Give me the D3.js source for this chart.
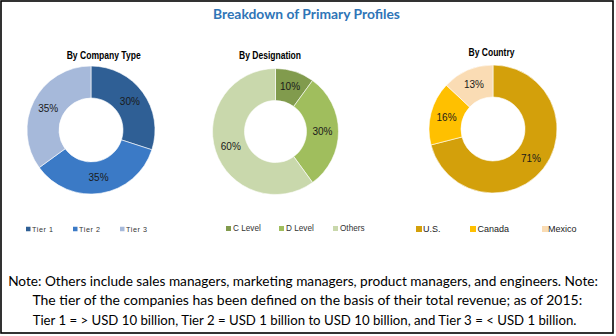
<!DOCTYPE html>
<html>
<head>
<meta charset="utf-8">
<script src="https://cdn.jsdelivr.net/npm/d3@7"></script>
<style>
  html, body { margin: 0; padding: 0; background: #fff; }
  svg { display: block; }
</style>
</head>
<body>
<script>
// ---- data ----
const title = "Breakdown of Primary Profiles";
const companyTypes = ["Tier 1", "Tier 2", "Tier 3"];
const companyShares = [30, 35, 35];
const designations = ["C Level", "D Level", "Others"];
const designationShares = [10, 30, 60];
const countries = ["U.S.", "Canada", "Mexico"];
const countryShares = [71, 16, 13];
const notes = [
  "Note: Others include sales managers, marketing managers, product managers, and engineers. Note:",
  "The tier of the companies has been defined on the basis of their total revenue; as of 2015:",
  "Tier 1 = > USD 10 billion, Tier 2 = USD 1 billion to USD 10 billion, and Tier 3 = < USD 1 billion."
];

// ---- layout / styles ----
const W = 616, H = 336;
const svg = d3.select("body").append("svg").attr("width", W).attr("height", H);
svg.append("rect").attr("width", W).attr("height", H).attr("fill", "#fff");
svg.append("rect").attr("x", 1).attr("y", 1).attr("width", 612).attr("height", 332)
  .attr("fill", "none").attr("stroke", "#000").attr("stroke-width", 1.6);

// fit a text's font size so its natural width equals a target width
function fitText(sel, target) {
  const base = +sel.attr("font-size");
  const w = sel.node().getComputedTextLength();
  if (w > 0) sel.attr("font-size", (base * target / w).toFixed(2));
}

const tt = svg.append("text").attr("x", 306.5).attr("y", 19).attr("text-anchor", "middle")
  .attr("font-family", "Lato, 'Open Sans', sans-serif").attr("font-weight", "bold")
  .attr("font-size", 14.5).attr("fill", "#2F75B7")
  .text(title);
fitText(tt, 187);

const charts = [
  { sub: "By Company Type", subX: 103.7, subY: 58.5, subW: 74, cats: companyTypes, vals: companyShares,
    colors: ["#2F5F95", "#3B7AC6", "#A6B9DA"], cx: 91, cy: 130, ro: 64, ri: 32,
    legY: 229, sqX: [26, 73, 120], txX: [32, 79, 126], sq: 4.5, legFs: 7.2, legLs: 0.6, legCol: "#333" },
  { sub: "By Designation", subX: 270, subY: 58.5, subW: 62, cats: designations, vals: designationShares,
    colors: ["#819B4D", "#A0BE5D", "#C9D8AC"], cx: 275.5, cy: 131.5, ro: 63, ri: 31,
    legY: 228.5, sqX: [226, 279, 333], txX: [233, 286, 340], sq: 5, legFs: 8.2, legLs: 0, legCol: "#333" },
  { sub: "By Country", subX: 491.5, subY: 55.5, subW: 46, cats: countries, vals: countryShares,
    colors: ["#D3A00B", "#FFC000", "#FADCB4"], cx: 493, cy: 129, ro: 64, ri: 32,
    legY: 229, sqX: [416, 470, 542], txX: [423, 477.5, 548], sq: 6, legFs: 9, legLs: 0, legCol: "#222" }
];

charts.forEach(c => {
  svg.append("text").attr("x", c.subX).attr("y", c.subY).attr("text-anchor", "middle")
    .attr("font-family", "'Liberation Sans Narrow', 'Liberation Sans', Arial, sans-serif")
    .attr("font-weight", "bold").attr("font-size", 10.5).attr("fill", "#000")
    .attr("textLength", c.subW).attr("lengthAdjust", "spacingAndGlyphs")
    .text(c.sub);

  const pie = d3.pie().sort(null).value(d => d)(c.vals);
  const arc = d3.arc().innerRadius(c.ri).outerRadius(c.ro);
  const labelArc = d3.arc().innerRadius((c.ri + c.ro) / 2).outerRadius((c.ri + c.ro) / 2);
  const g = svg.append("g").attr("transform", `translate(${c.cx},${c.cy})`);
  g.selectAll("path").data(pie).join("path")
    .attr("d", arc).attr("fill", (d, i) => c.colors[i])
    .attr("stroke", "#fff").attr("stroke-width", 0.6);
  g.selectAll("text").data(pie).join("text")
    .attr("transform", d => `translate(${labelArc.centroid(d)})`)
    .attr("text-anchor", "middle").attr("dy", "0.35em")
    .attr("font-family", "'Liberation Sans', Arial, sans-serif").attr("font-size", 10)
    .attr("fill", "#1a1a1a")
    .text(d => d.data + "%");

  const leg = svg.append("g");
  c.cats.forEach((name, i) => {
    leg.append("rect").attr("x", c.sqX[i]).attr("y", c.legY - c.sq / 2)
      .attr("width", c.sq).attr("height", c.sq).attr("fill", c.colors[i]);
    leg.append("text").attr("x", c.txX[i]).attr("y", c.legY).attr("dy", "0.35em")
      .attr("font-family", "'Liberation Sans', Arial, sans-serif").attr("font-size", c.legFs)
      .attr("letter-spacing", c.legLs).attr("fill", c.legCol).text(name);
  });
});

const noteX = [303, 307.3, 304.5], noteY = [285.5, 305, 325], noteW = [590, 550, 544];
notes.forEach((t, i) => {
  const n = svg.append("text").attr("x", noteX[i]).attr("y", noteY[i]).attr("text-anchor", "middle")
    .attr("font-family", "Lato, 'Open Sans', sans-serif").attr("font-size", 14.5)
    .attr("fill", "#000")
    .text(t);
  fitText(n, noteW[i]);
});
</script>
</body>
</html>
